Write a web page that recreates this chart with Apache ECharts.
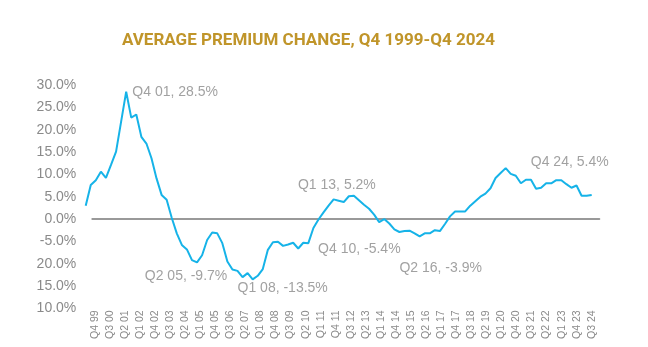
<!DOCTYPE html>
<html>
<head>
<meta charset="utf-8">
<script src="https://cdn.jsdelivr.net/npm/echarts@6/dist/echarts.min.js"></script>
<style>
html,body{margin:0;padding:0;background:#fff;}
#chart{width:648px;height:347px;}
</style>
</head>
<body>
<div id="chart"></div>
<script>
// Quarterly categories, Q4 1999 .. Q4 2024
const quarters = [
  'Q4 99',
  'Q1 00','Q2 00','Q3 00','Q4 00',
  'Q1 01','Q2 01','Q3 01','Q4 01',
  'Q1 02','Q2 02','Q3 02','Q4 02',
  'Q1 03','Q2 03','Q3 03','Q4 03',
  'Q1 04','Q2 04','Q3 04','Q4 04',
  'Q1 05','Q2 05','Q3 05','Q4 05',
  'Q1 06','Q2 06','Q3 06','Q4 06',
  'Q1 07','Q2 07','Q3 07','Q4 07',
  'Q1 08','Q2 08','Q3 08','Q4 08',
  'Q1 09','Q2 09','Q3 09','Q4 09',
  'Q1 10','Q2 10','Q3 10','Q4 10',
  'Q1 11','Q2 11','Q3 11','Q4 11',
  'Q1 12','Q2 12','Q3 12','Q4 12',
  'Q1 13','Q2 13','Q3 13','Q4 13',
  'Q1 14','Q2 14','Q3 14','Q4 14',
  'Q1 15','Q2 15','Q3 15','Q4 15',
  'Q1 16','Q2 16','Q3 16','Q4 16',
  'Q1 17','Q2 17','Q3 17','Q4 17',
  'Q1 18','Q2 18','Q3 18','Q4 18',
  'Q1 19','Q2 19','Q3 19','Q4 19',
  'Q1 20','Q2 20','Q3 20','Q4 20',
  'Q1 21','Q2 21','Q3 21','Q4 21',
  'Q1 22','Q2 22','Q3 22','Q4 22',
  'Q1 23','Q2 23','Q3 23','Q4 23',
  'Q1 24','Q2 24','Q3 24','Q4 24'
];

// Average premium change, %
const premiumChange = [
  3.0,
  7.6, 8.7, 10.6, 9.2,
  12.1, 15.1, 21.8, 28.5,
  22.7, 23.4, 18.4, 16.9,
  13.6, 9.1, 5.4, 4.3,
  0.3, -3.2, -5.8, -6.8,
  -9.2, -9.7, -8.1, -4.7,
  -3.0, -3.2, -5.4, -9.5,
  -11.3, -11.6, -13.0, -12.1,
  -13.5, -12.7, -11.2, -6.9,
  -5.2, -5.1, -6.0, -5.7,
  -5.3, -6.6, -5.3, -5.4,
  -2.0, -0.1, 1.5, 3.0,
  4.4, 4.1, 3.8, 5.1,
  5.2, 4.2, 3.2, 2.3,
  1.0, -0.7, 0.0, -1.0,
  -2.3, -2.9, -2.7, -2.6,
  -3.2, -3.9, -3.2, -3.2,
  -2.5, -2.7, -1.1, 0.6,
  1.7, 1.7, 1.7, 3.0,
  4.0, 5.0, 5.7, 6.9,
  9.2, 10.3, 11.4, 10.1,
  9.7, 8.0, 8.8, 8.8,
  6.8, 7.0, 8.0, 8.0,
  8.7, 8.7, 7.8, 7.0,
  7.5, 5.2, 5.2, 5.4
];

// Y tick labels as printed on the chart, from -20 up to 30 in steps of 5
const yTickValues = [-20, -15, -10, -5, 0, 5, 10, 15, 20, 25, 30];
const yTickLabels = ['10.0%', '15.0%', '20.0%', '-5.0%', '0.0%', '5.0%', '10.0%', '15.0%', '20.0%', '25.0%', '30.0%'];

// Annotated quarters and their texts
const annotQuarters = ['Q4 01', 'Q2 05', 'Q1 08', 'Q1 13', 'Q4 10', 'Q2 16', 'Q4 24'];
const annotTexts = ['Q4 01, 28.5%', 'Q2 05, -9.7%', 'Q1 08, -13.5%', 'Q1 13, 5.2%', 'Q4 10, -5.4%', 'Q2 16, -3.9%', 'Q4 24, 5.4%'];

const TITLE = 'AVERAGE PREMIUM CHANGE, Q4 1999-Q4 2024';

// ---- styling / layout ----
const GRAY = '#8a8a8a';
const FONT = 'Liberation Sans';
const labelOffsets = [[49, 0], [-11, 14], [30, 9], [-17, -11], [51, 6], [21, 32], [-22, -33]];

const chart = echarts.init(document.getElementById('chart'), null, {renderer: 'canvas'});

const annotData = annotQuarters.map((q, k) => {
  const idx = quarters.indexOf(q);
  return {
    value: [idx, premiumChange[idx]],
    label: {offset: labelOffsets[k]}
  };
});

const yMin = yTickValues[0], yMax = yTickValues[yTickValues.length - 1];

const option = {
  animation: false,
  backgroundColor: '#ffffff',
  title: {
    text: TITLE,
    left: 117,
    top: 27,
    textStyle: {color: '#C0952A', fontFamily: 'Roboto', fontWeight: 'bold', fontSize: 17}
  },
  grid: [
    {left: 92.3, right: 48.7, top: 85, bottom: 38.6, containLabel: false},
    {left: 85.7, right: 56.3, top: 85, bottom: 38.6, containLabel: false}
  ],
  xAxis: [
    {
      gridIndex: 0, type: 'category', data: quarters, boundaryGap: true, position: 'bottom',
      axisLine: {show: false, onZero: false}, axisTick: {show: false}, splitLine: {show: false},
      axisLabel: {interval: 2, rotate: 90, margin: 2, color: GRAY, fontFamily: FONT, fontSize: 10.5}
    },
    {
      gridIndex: 0, type: 'category', data: quarters, boundaryGap: true, position: 'top',
      axisLine: {show: true, onZero: true, lineStyle: {color: '#999999', width: 2}},
      axisTick: {show: false}, axisLabel: {show: false}, splitLine: {show: false}
    },
    {
      gridIndex: 1, type: 'category', data: quarters, boundaryGap: false, show: false
    }
  ],
  yAxis: [
    {
      gridIndex: 0, type: 'value', min: yMin, max: yMax, interval: 5,
      axisLine: {show: false}, axisTick: {show: false}, splitLine: {show: false},
      axisLabel: {
        margin: 16, color: GRAY, fontFamily: FONT, fontSize: 14,
        formatter: v => yTickLabels[yTickValues.indexOf(v)]
      }
    },
    {
      gridIndex: 1, type: 'value', min: yMin, max: yMax, interval: 5, show: false
    }
  ],
  series: [
    {
      type: 'line', xAxisIndex: 2, yAxisIndex: 1, data: premiumChange,
      showSymbol: false, symbol: 'none', smooth: false,
      lineStyle: {color: '#16B3E8', width: 2}, z: 3
    },
    {
      type: 'scatter', xAxisIndex: 2, yAxisIndex: 1, data: annotData,
      symbolSize: 1, itemStyle: {color: 'rgba(0,0,0,0)'}, z: 4,
      label: {
        show: true, position: 'inside', color: GRAY, fontFamily: FONT, fontSize: 14,
        formatter: p => annotTexts[p.dataIndex]
      }
    }
  ]
};

chart.setOption(option);
</script>
</body>
</html>
